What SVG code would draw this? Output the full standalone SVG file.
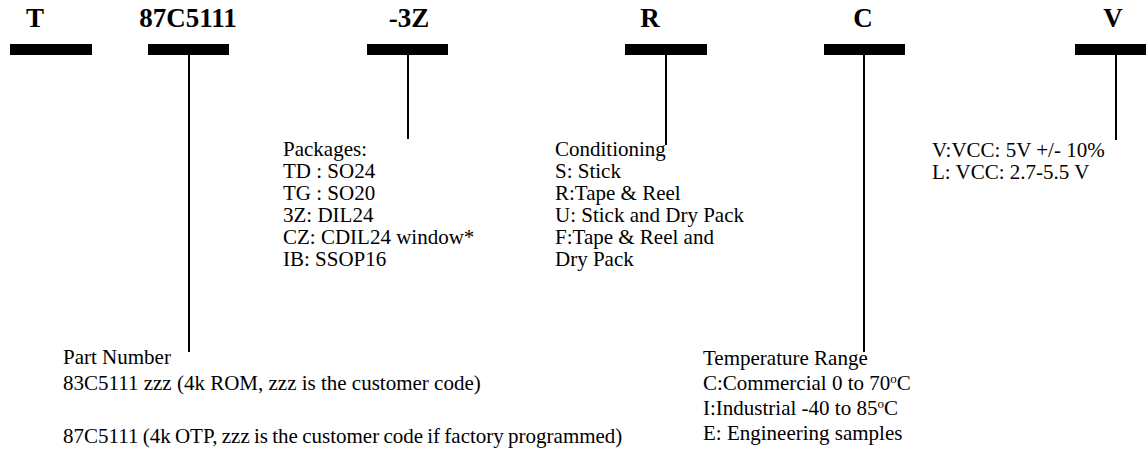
<svg xmlns="http://www.w3.org/2000/svg" width="1146" height="463" viewBox="0 0 1146 463">
<style>
.h{font-family:"Liberation Serif",serif;font-weight:bold;font-size:27px;fill:#000}
.t{font-family:"Liberation Serif",serif;font-size:21px;fill:#000}
.sup{font-size:13px}
.bar{fill:#000}
.stem{stroke:#000;stroke-width:2;fill:none}
</style>
<rect width="1146" height="463" fill="#fff"/>
<g id="node-T">
<text class="h" x="35" y="27" text-anchor="middle">T</text>
<rect class="bar" x="10" y="44" width="82" height="11"/>
</g>
<g id="node-partnumber">
<text class="h" x="188" y="27" text-anchor="middle">87C5111</text>
<rect class="bar" x="148" y="44" width="81" height="11"/>
<text class="t" x="63" y="364">Part Number</text>
<text class="t" x="63" y="390">83C5111 zzz (4k ROM, zzz is the customer code)</text>
<text class="t" x="63" y="443" word-spacing="-1">87C5111 (4k OTP, zzz is the customer code if  factory programmed)</text>
</g>
<g id="node-package">
<text class="h" x="409" y="27" text-anchor="middle">-3Z</text>
<rect class="bar" x="367" y="44" width="81" height="11"/>
<text class="t" x="283" y="156">Packages:</text>
<text class="t" x="283" y="178">TD : SO24</text>
<text class="t" x="283" y="200">TG : SO20</text>
<text class="t" x="283" y="222">3Z: DIL24</text>
<text class="t" x="283" y="244">CZ: CDIL24 window*</text>
<text class="t" x="283" y="266">IB: SSOP16</text>
</g>
<g id="node-conditioning">
<text class="h" x="650" y="27" text-anchor="middle">R</text>
<rect class="bar" x="625" y="44" width="82" height="11"/>
<text class="t" x="555" y="156">Conditioning</text>
<text class="t" x="555" y="178">S: Stick</text>
<text class="t" x="555" y="200">R:Tape &amp; Reel</text>
<text class="t" x="555" y="222">U: Stick and Dry Pack</text>
<text class="t" x="555" y="244">F:Tape &amp; Reel and</text>
<text class="t" x="555" y="266">Dry Pack</text>
</g>
<g id="node-temperature">
<text class="h" x="863" y="27" text-anchor="middle">C</text>
<rect class="bar" x="824" y="44" width="81" height="11"/>
<text class="t" x="703" y="365">Temperature Range</text>
<text class="t" x="703" y="390">C:Commercial 0 to 70<tspan class="sup" dy="-7">o</tspan><tspan dy="7">C</tspan></text>
<text class="t" x="703" y="415">I:Industrial -40 to 85<tspan class="sup" dy="-7">o</tspan><tspan dy="7">C</tspan></text>
<text class="t" x="703" y="440">E: Engineering samples</text>
</g>
<g id="node-voltage">
<text class="h" x="1113" y="27" text-anchor="middle">V</text>
<rect class="bar" x="1075" y="44" width="71" height="11"/>
<text class="t" x="932" y="157">V:VCC: 5V +/- 10%</text>
<text class="t" x="932" y="179">L: VCC: 2.7-5.5 V</text>
</g>
<g id="connectors">
<line class="stem" x1="189" y1="55" x2="189" y2="352"/>
<line class="stem" x1="408" y1="55" x2="408" y2="139"/>
<line class="stem" x1="666" y1="55" x2="666" y2="145"/>
<line class="stem" x1="864" y1="55" x2="864" y2="352"/>
<line class="stem" x1="1116" y1="55" x2="1116" y2="140"/>
</g>
</svg>
